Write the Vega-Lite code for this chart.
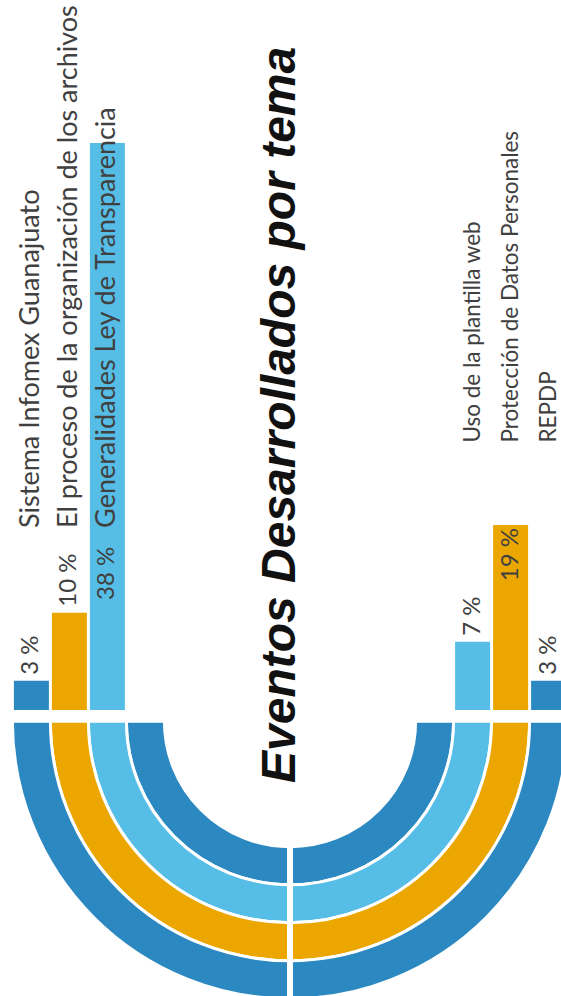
{
  "$schema": "https://vega.github.io/schema/vega-lite/v6.json",
  "width": 580,
  "height": 996,
  "autosize": "none",
  "padding": 0,
  "background": "white",
  "config": {"view": {"stroke": null}},
  "datasets": {
    "temas": [
      {"tema": "Sistema Infomex Guanajuato", "porcentaje": 3, "lado": "izquierda", "anillo": 4},
      {"tema": "El proceso de la organización de los archivos", "porcentaje": 10, "lado": "izquierda", "anillo": 3},
      {"tema": "Generalidades Ley de Transparencia", "porcentaje": 38, "lado": "izquierda", "anillo": 2},
      {"tema": "Uso de la plantilla web", "porcentaje": 7, "lado": "derecha", "anillo": 2},
      {"tema": "Protección de Datos Personales", "porcentaje": 19, "lado": "derecha", "anillo": 3},
      {"tema": "REPDP", "porcentaje": 3, "lado": "derecha", "anillo": 4}
    ],
    "anillos": [
      {"anillo": 1}, {"anillo": 2}, {"anillo": 3}, {"anillo": 4}
    ]
  },
  "resolve": {"scale": {"x": "independent"}},
  "layer": [
    {
      "data": {"name": "anillos"},
      "mark": {"type": "arc", "theta": 3.14159265, "theta2": 4.71238898, "radius2Offset": -38, "stroke": "white", "strokeWidth": 3},
      "encoding": {
        "y": {"datum": -1.15, "scale": {"type": "linear", "domain": [0, 19, 38], "range": [710, 525, 143], "nice": false, "zero": false}, "axis": null},
        "radius": {"field": "anillo", "type": "quantitative", "scale": {"type": "linear", "domain": [1, 4], "range": [163.6, 277.6], "zero": false, "nice": false}},
        "radius2": {"field": "anillo"},
        "color": {"field": "anillo", "type": "nominal", "scale": {"domain": [1, 2, 3, 4], "range": ["#2C88C0", "#56BEE6", "#EBA700", "#2C88C0"]}, "legend": null}
      }
    },
    {
      "data": {"name": "anillos"},
      "mark": {"type": "arc", "theta": 1.57079633, "theta2": 3.14159265, "radius2Offset": -38, "stroke": "white", "strokeWidth": 3},
      "encoding": {
        "y": {"datum": -1.15, "scale": {"type": "linear", "domain": [0, 19, 38], "range": [710, 525, 143], "nice": false, "zero": false}, "axis": null},
        "radius": {"field": "anillo", "type": "quantitative", "scale": {"type": "linear", "domain": [1, 4], "range": [163.6, 277.6], "zero": false, "nice": false}},
        "radius2": {"field": "anillo"},
        "color": {"field": "anillo", "type": "nominal", "scale": {"domain": [1, 2, 3, 4], "range": ["#2C88C0", "#56BEE6", "#EBA700", "#2C88C0"]}, "legend": null}
      }
    },
    {
      "data": {"values": [{}]},
      "mark": {"type": "rule", "stroke": "white", "strokeWidth": 6},
      "encoding": {
        "y": {"datum": -1.15, "scale": {"type": "linear", "domain": [0, 19, 38], "range": [710, 525, 143], "nice": false, "zero": false}, "axis": null},
        "y2": {"datum": -32}
      }
    },
    {
      "data": {"values": [{"titulo": "Eventos Desarrollados por tema"}]},
      "mark": {"type": "text", "angle": 270, "align": "left", "baseline": "alphabetic", "dy": 5, "font": "Liberation Sans", "fontSize": 48, "fontWeight": "bold", "fontStyle": "italic", "color": "#111111"},
      "encoding": {
        "y": {"datum": -7.5, "scale": {"type": "linear", "domain": [0, 19, 38], "range": [710, 525, 143], "nice": false, "zero": false}, "axis": null},
        "text": {"field": "titulo"}
      }
    },
    {
      "data": {"name": "temas"},
      "transform": [{"filter": "datum.lado === 'izquierda'"}],
      "encoding": {
        "x": {"field": "anillo", "type": "quantitative", "scale": {"type": "linear", "domain": [1, 4], "range": [127.9, 13.9], "nice": false, "zero": false}, "axis": null}
      },
      "layer": [
        {
          "mark": {"type": "rect", "x2Offset": 35},
          "encoding": {
            "x2": {"field": "anillo"},
            "y": {"field": "porcentaje", "type": "quantitative", "scale": {"type": "linear", "domain": [0, 19, 38], "range": [710, 525, 143], "nice": false, "zero": false}, "axis": null},
            "y2": {"datum": 0},
            "color": {"field": "anillo", "type": "nominal", "legend": null}
          }
        },
        {
          "transform": [{"filter": "datum.porcentaje < 15"}],
          "mark": {"type": "text", "angle": 270, "align": "left", "baseline": "middle", "dx": 6, "dy": 17.5, "font": "Lato", "fontSize": 24, "color": "#404040", "text": {"expr": "datum.porcentaje + ' %'"}},
          "encoding": {
            "y": {"field": "porcentaje", "type": "quantitative", "axis": null}
          }
        },
        {
          "transform": [{"filter": "datum.porcentaje >= 30"}],
          "mark": {"type": "text", "angle": 270, "align": "left", "baseline": "middle", "dy": 17.5, "font": "Lato", "fontSize": 24, "color": "#404040", "text": {"expr": "datum.porcentaje + ' %'"}},
          "encoding": {
            "y": {"datum": 11.3, "axis": null}
          }
        },
        {
          "mark": {"type": "text", "angle": 270, "align": "left", "baseline": "middle", "dy": 17.5, "font": "Lato", "fontSize": 27, "color": "#404040"},
          "encoding": {
            "y": {"datum": 18.7, "axis": null},
            "text": {"field": "tema"}
          }
        }
      ]
    },
    {
      "data": {"name": "temas"},
      "transform": [{"filter": "datum.lado === 'derecha'"}],
      "encoding": {
        "x": {"field": "anillo", "type": "quantitative", "scale": {"type": "linear", "domain": [1, 4], "range": [417.1, 531.1], "nice": false, "zero": false}, "axis": null}
      },
      "layer": [
        {
          "mark": {"type": "rect", "x2Offset": 35},
          "encoding": {
            "x2": {"field": "anillo"},
            "y": {"field": "porcentaje", "type": "quantitative", "axis": null},
            "y2": {"datum": 0},
            "color": {"field": "anillo", "type": "nominal", "legend": null}
          }
        },
        {
          "transform": [{"filter": "datum.porcentaje < 15"}],
          "mark": {"type": "text", "angle": 270, "align": "left", "baseline": "middle", "dx": 6, "dy": 17.5, "font": "Lato", "fontSize": 24, "color": "#404040", "text": {"expr": "datum.porcentaje + ' %'"}},
          "encoding": {
            "y": {"field": "porcentaje", "type": "quantitative", "axis": null}
          }
        },
        {
          "transform": [{"filter": "datum.porcentaje >= 15"}],
          "mark": {"type": "text", "angle": 270, "align": "right", "baseline": "middle", "dx": -3, "dy": 17.5, "font": "Lato", "fontSize": 24, "color": "#404040", "text": {"expr": "datum.porcentaje + ' %'"}},
          "encoding": {
            "y": {"field": "porcentaje", "type": "quantitative", "axis": null}
          }
        },
        {
          "mark": {"type": "text", "angle": 270, "align": "left", "baseline": "middle", "dy": 17.5, "font": "Lato", "fontSize": 22.5, "color": "#404040"},
          "encoding": {
            "y": {"datum": 23.1, "axis": null},
            "text": {"field": "tema"}
          }
        }
      ]
    }
  ]
}
